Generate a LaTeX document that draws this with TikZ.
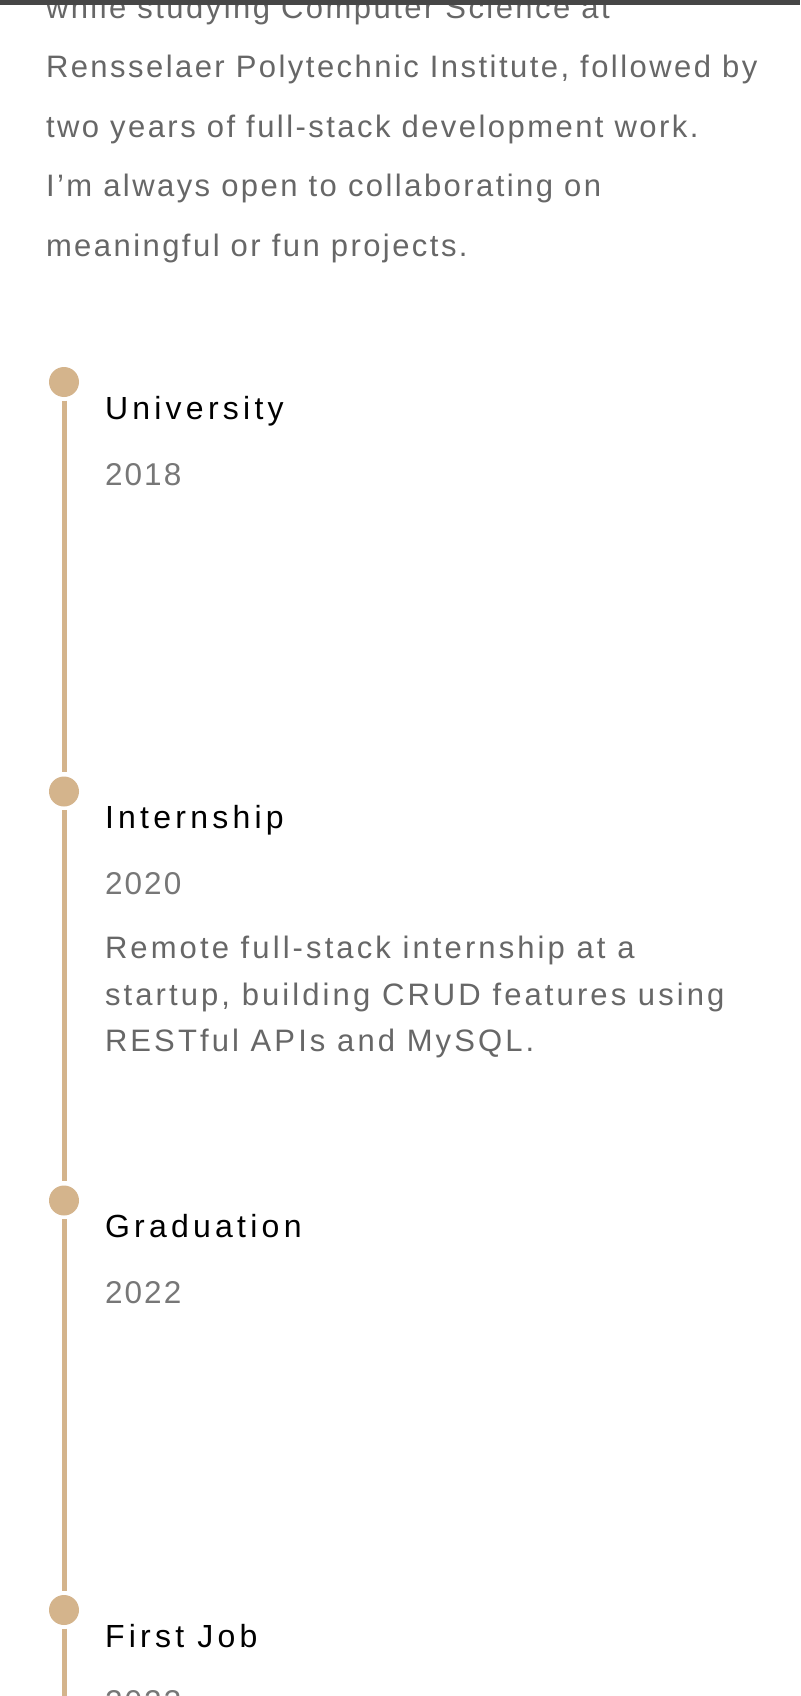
\documentclass[tikz,border=0pt]{standalone}
\usepackage{fontspec}
\setmainfont{Liberation Sans}
\newfontfamily\bodyfont[LetterSpace=7.9]{Liberation Sans}
\newfontfamily\yearfont[LetterSpace=6.6]{Liberation Sans}
\newfontfamily\headfont[LetterSpace=13.3]{Liberation Sans}
\newfontfamily\descfont[LetterSpace=10]{Liberation Sans}
\definecolor{tan}{HTML}{D4B48C}
\definecolor{bodygray}{HTML}{676767}
\definecolor{yeargray}{HTML}{777777}
\definecolor{bar}{HTML}{464646}
\tikzset{
  txt/.style={anchor=base west, inner sep=0pt, outer sep=0pt},
  bodytxt/.style={txt, text=bodygray, font=\bodyfont\fontsize{31}{31}\selectfont},
  headtxt/.style={txt, text=black, font=\headfont\fontsize{32}{32}\selectfont},
  yeartxt/.style={txt, text=yeargray, font=\yearfont\fontsize{31.5}{31.5}\selectfont},
  desctxt/.style={txt, text=bodygray, font=\descfont\fontsize{31}{31}\selectfont},
  dot/.style={circle, fill=tan, draw=none, minimum size=30pt, inner sep=0pt},
  tl/.style={draw=tan, line width=5pt},
}
\begin{document}
\begin{tikzpicture}[x=1pt,y=-1pt]
\useasboundingbox (0,0) rectangle (800,1696);
\clip (0,0) rectangle (800,1696);
\fill[white] (0,0) rectangle (800,1696);
% intro paragraph
\node[bodytxt] (p0) at (46,19) {while studying Computer Science at};
\node[bodytxt] (p1) at (46,77.5) {Rensselaer Polytechnic Institute, followed by};
\node[bodytxt] (p2) at (46,137.5) {two years of full-stack development work.};
\node[bodytxt] (p3) at (46,197) {I’m always open to collaborating on};
\node[bodytxt] (p4) at (46,256.5) {meaningful or fun projects.};
% top bar
\fill[bar] (0,0) rectangle (800,5);
% dots
\node[dot] (d1) at (64,382) {};
\node[dot] (d2) at (64,791.5) {};
\node[dot] (d3) at (64,1200.5) {};
\node[dot] (d4) at (64,1610) {};
\coordinate (bottom) at (64,1700);
% timeline segments
\draw[tl] ([yshift=-3.5pt]d1.south) -- ([yshift=4pt]d2.north);
\draw[tl] ([yshift=-3.5pt]d2.south) -- ([yshift=4pt]d3.north);
\draw[tl] ([yshift=-3.5pt]d3.south) -- ([yshift=4pt]d4.north);
\draw[tl] ([yshift=-3.5pt]d4.south) -- (bottom);
% entries
\node[headtxt] (h1) at (105,419) {University};
\node[yeartxt] (y1) at (105,485) {2018};
\node[headtxt] (h2) at (105,828.5) {Internship};
\node[yeartxt] (y2) at (105,894) {2020};
\node[desctxt] (e1) at (105,958.5) {Remote full-stack internship at a};
\node[desctxt] (e2) at (105,1005) {startup, building CRUD features using};
\node[desctxt] (e3) at (105,1051) {RESTful APIs and MySQL.};
\node[headtxt] (h3) at (105,1237.5) {Graduation};
\node[yeartxt] (y3) at (105,1303) {2022};
\node[headtxt] (h4) at (105,1647.5) {First Job};
\node[yeartxt] (y4) at (105,1712) {2023};
\end{tikzpicture}
\end{document}
